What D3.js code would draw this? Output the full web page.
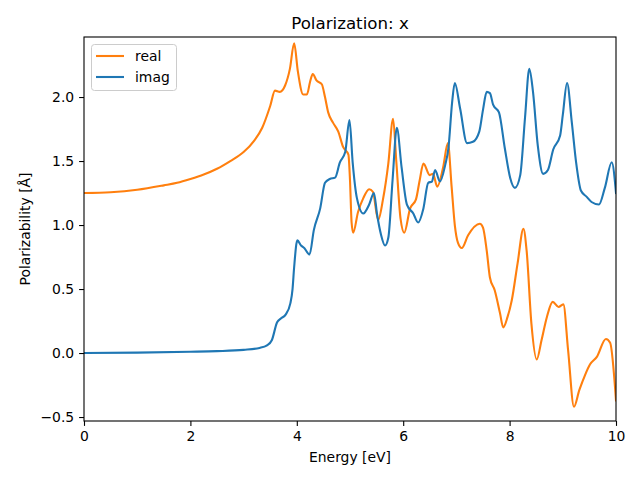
<!DOCTYPE html>
<html>
<head>
<meta charset="utf-8">
<script src="https://cdn.jsdelivr.net/npm/d3@7"></script>
<style>
  html, body { margin: 0; padding: 0; background: #fff; }
  svg { display: block; font-family: "DejaVu Sans", sans-serif; }
</style>
</head>
<body>
<svg id="chart" width="640" height="480"></svg>
<script>
const titleText = "Polarization: x";
const xLabel = "Energy [eV]";
const yLabel = "Polarizability [Å]";
const seriesNames = ["real", "imag"];
const xTicks = [0, 2, 4, 6, 8, 10];
const yTicks = [-0.5, 0.0, 0.5, 1.0, 1.5, 2.0];

const realX = [0, 0.5, 1.0, 1.5, 1.75, 2.0, 2.25, 2.5, 2.75, 3.0, 3.2, 3.35, 3.5, 3.59, 3.68, 3.78, 3.87, 3.95, 4.02, 4.12, 4.19, 4.25, 4.30, 4.37, 4.47, 4.53, 4.59, 4.68, 4.78, 4.87, 4.97, 5.0, 5.03, 5.06, 5.15, 5.25, 5.36, 5.43, 5.53, 5.62, 5.72, 5.81, 5.87, 5.95, 6.02, 6.13, 6.24, 6.31, 6.38, 6.50, 6.56, 6.64, 6.75, 6.84, 6.91, 6.97, 7.03, 7.10, 7.22, 7.44, 7.50, 7.57, 7.63, 7.72, 7.82, 7.88, 7.96, 8.04, 8.15, 8.26, 8.32, 8.41, 8.51, 8.60, 8.70, 8.81, 8.92, 9.01, 9.10, 9.21, 9.31, 9.42, 9.51, 9.64, 9.81, 9.89, 10.0];
const realY = [1.25, 1.256, 1.275, 1.31, 1.33, 1.36, 1.395, 1.44, 1.50, 1.57, 1.66, 1.76, 1.93, 2.05, 2.04, 2.09, 2.22, 2.42, 2.20, 2.02, 2.02, 2.12, 2.18, 2.13, 2.10, 2.00, 1.88, 1.80, 1.73, 1.61, 1.55, 1.35, 1.02, 0.94, 1.10, 1.21, 1.28, 1.26, 1.04, 1.20, 1.48, 1.83, 1.50, 1.05, 0.94, 1.13, 1.20, 1.35, 1.48, 1.39, 1.40, 1.30, 1.45, 1.64, 1.30, 1.00, 0.86, 0.82, 0.92, 1.01, 0.98, 0.80, 0.59, 0.49, 0.31, 0.20, 0.28, 0.41, 0.70, 0.97, 0.80, 0.23, -0.05, 0.10, 0.28, 0.40, 0.36, 0.38, 0.02, -0.42, -0.29, -0.17, -0.09, -0.03, 0.11, 0.08, -0.37];

const imagX = [0, 1, 2, 2.5, 3.0, 3.3, 3.44, 3.53, 3.63, 3.70, 3.79, 3.88, 3.92, 3.95, 4.01, 4.08, 4.14, 4.24, 4.32, 4.44, 4.53, 4.62, 4.72, 4.81, 4.91, 4.99, 5.05, 5.13, 5.25, 5.36, 5.45, 5.51, 5.58, 5.66, 5.72, 5.80, 5.88, 5.97, 6.07, 6.19, 6.28, 6.38, 6.47, 6.54, 6.60, 6.69, 6.79, 6.85, 6.92, 6.97, 7.07, 7.20, 7.31, 7.43, 7.50, 7.57, 7.63, 7.69, 7.80, 7.91, 8.01, 8.10, 8.20, 8.29, 8.37, 8.44, 8.53, 8.63, 8.72, 8.82, 8.95, 9.00, 9.08, 9.17, 9.25, 9.34, 9.45, 9.54, 9.68, 9.79, 9.92, 10.0];
const imagY = [0, 0.003, 0.01, 0.015, 0.025, 0.04, 0.06, 0.10, 0.24, 0.27, 0.30, 0.39, 0.50, 0.67, 0.88, 0.84, 0.82, 0.77, 0.96, 1.13, 1.33, 1.36, 1.37, 1.49, 1.57, 1.82, 1.49, 1.21, 1.09, 1.16, 1.25, 1.08, 0.93, 0.84, 0.90, 1.35, 1.76, 1.45, 1.16, 1.09, 1.02, 1.13, 1.33, 1.34, 1.43, 1.34, 1.47, 1.60, 1.96, 2.11, 1.91, 1.64, 1.65, 1.73, 1.90, 2.04, 2.03, 1.94, 1.88, 1.60, 1.37, 1.29, 1.39, 1.84, 2.22, 2.04, 1.62, 1.40, 1.43, 1.59, 1.70, 1.86, 2.11, 1.80, 1.49, 1.27, 1.22, 1.18, 1.16, 1.29, 1.49, 1.25];

const colors = { real: "#ff7f0e", imag: "#1f77b4" };

const svg = d3.select("#chart");
const L = 84, R = 616, T = 37, B = 421;

const x = d3.scaleLinear().domain([0, 10]).range([L, R]);
const y = d3.scaleLinear().domain([-0.531, 2.469]).range([B, T]);

svg.append("defs").append("clipPath").attr("id", "clip")
  .append("rect").attr("x", L).attr("y", T).attr("width", R - L).attr("height", B - T);

const realData = realX.map((v, i) => [v, realY[i]]);
const imagData = imagX.map((v, i) => [v, imagY[i]]);

const line = d3.line().x(d => x(d[0])).y(d => y(d[1])).curve(d3.curveMonotoneX);

const plot = svg.append("g").attr("clip-path", "url(#clip)");
plot.append("path").datum(realData).attr("d", line)
  .attr("fill", "none").attr("stroke", colors.real).attr("stroke-width", 2.1)
  .attr("stroke-linejoin", "round").attr("stroke-linecap", "square");
plot.append("path").datum(imagData).attr("d", line)
  .attr("fill", "none").attr("stroke", colors.imag).attr("stroke-width", 2.1)
  .attr("stroke-linejoin", "round").attr("stroke-linecap", "square");

// axes
const xAxis = d3.axisBottom(x).tickValues(xTicks).tickFormat(d3.format("d")).tickSize(4.9).tickPadding(4.9);
const yAxis = d3.axisLeft(y).tickValues(yTicks).tickFormat(d => d3.format(".1f")(d).replace("-", "\u2212")).tickSize(4.9).tickPadding(4.9);

const gx = svg.append("g").attr("transform", `translate(0,${B})`).call(xAxis);
const gy = svg.append("g").attr("transform", `translate(${L},0)`).call(yAxis);
[gx, gy].forEach(g => {
  g.select(".domain").remove();
  g.selectAll("line").attr("stroke", "#000").attr("stroke-width", 1.1);
  g.selectAll("text").attr("fill", "#000").style("font-size", "13.9px").style("font-family", "DejaVu Sans");
});

// frame
svg.append("rect").attr("x", L).attr("y", T).attr("width", R - L).attr("height", B - T)
  .attr("fill", "none").attr("stroke", "#000").attr("stroke-width", 1.1);

// title and labels
svg.append("text").attr("x", (L + R) / 2).attr("y", 29).attr("text-anchor", "middle")
  .style("font-size", "16.67px").attr("fill", "#000").text(titleText);
svg.append("text").attr("x", (L + R) / 2).attr("y", 462).attr("text-anchor", "middle")
  .style("font-size", "13.9px").attr("fill", "#000").text(xLabel);
svg.append("text").attr("transform", `translate(30,${(T + B) / 2}) rotate(-90)`).attr("text-anchor", "middle")
  .style("font-size", "13.9px").attr("fill", "#000").text(yLabel);

// legend
const lg = svg.append("g");
lg.append("rect").attr("x", 91.5).attr("y", 44.5).attr("width", 85).attr("height", 46).attr("rx", 3)
  .attr("fill", "#fff").attr("fill-opacity", 0.8).attr("stroke", "#cccccc").attr("stroke-width", 1);
seriesNames.forEach((name, i) => {
  const yy = 56 + i * 21;
  lg.append("line").attr("x1", 96).attr("x2", 124).attr("y1", yy).attr("y2", yy)
    .attr("stroke", colors[name]).attr("stroke-width", 2.1);
  lg.append("text").attr("x", 135).attr("y", yy + 5).style("font-size", "13.9px").attr("fill", "#000").text(name);
});
</script>
</body>
</html>
